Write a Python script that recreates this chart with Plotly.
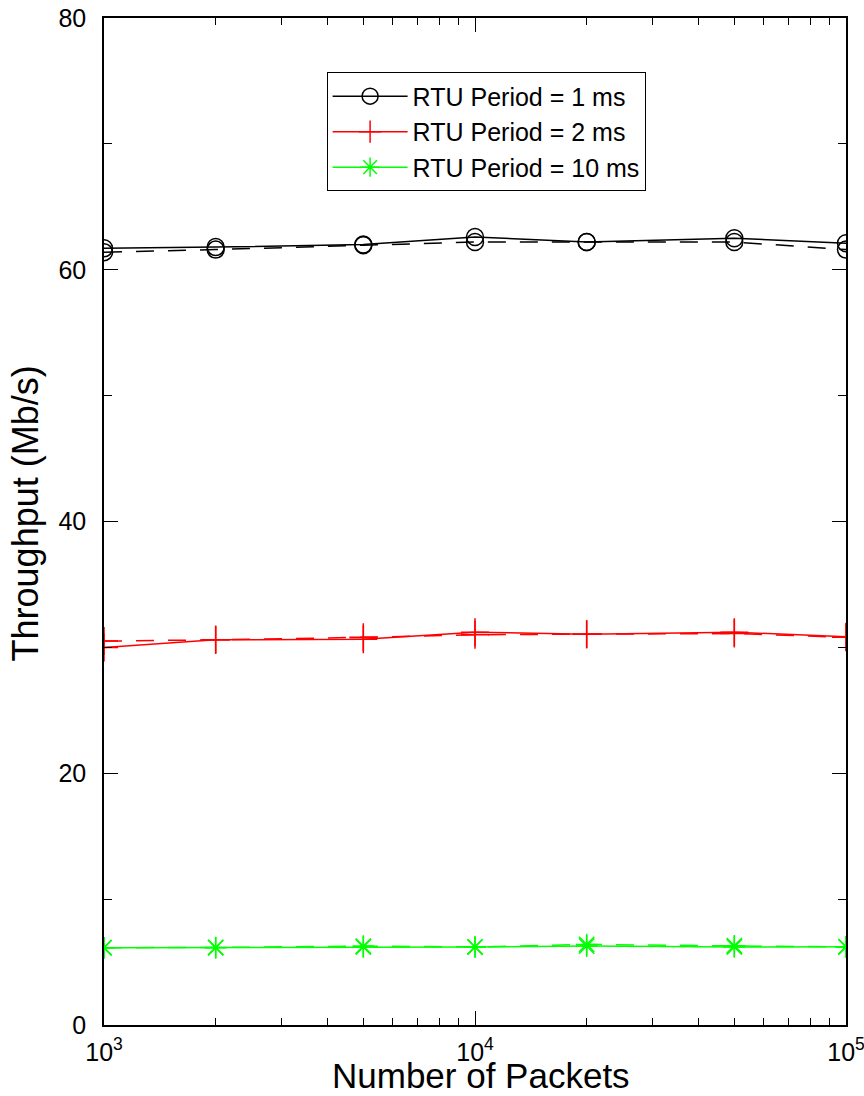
import plotly.graph_objects as go

packets = [1000, 2000, 5000, 10000, 20000, 50000, 100000]

rtu1_meas = [61.7, 61.8, 62.0, 62.6, 62.2, 62.5, 62.1]
rtu1_model = [61.4, 61.6, 61.95, 62.2, 62.2, 62.2, 61.6]
rtu2_meas = [30.0, 30.6, 30.65, 31.2, 31.05, 31.2, 30.85]
rtu2_model = [30.5, 30.6, 30.8, 31.0, 31.05, 31.1, 30.8]
rtu10_meas = [6.14, 6.14, 6.2, 6.2, 6.27, 6.2, 6.22]
rtu10_model = [6.14, 6.16, 6.27, 6.2, 6.4, 6.3, 6.2]

labels = ["RTU Period = 1 ms", "RTU Period = 2 ms", "RTU Period = 10 ms"]
colors = ["#000000", "#ff0000", "#00ff00"]
symbols = ["circle-open", "cross-thin-open", "asterisk-open"]
sizes = [17, 20, 18]

x_tickvals = [1000, 10000, 100000]
x_ticktext = ["10<sup>3</sup>", "10<sup>4</sup>", "10<sup>5</sup>"]
x_minor = [2000, 3000, 4000, 5000, 6000, 7000, 8000, 9000,
           20000, 30000, 40000, 50000, 60000, 70000, 80000, 90000]
y_tickvals = [0, 20, 40, 60, 80]

fig = go.Figure()
meas = [rtu1_meas, rtu2_meas, rtu10_meas]
model = [rtu1_model, rtu2_model, rtu10_model]
for i in range(3):
    fig.add_trace(go.Scatter(
        x=packets, y=model[i], mode="lines+markers", showlegend=False,
        line=dict(color=colors[i], width=1.5, dash="18px,14px"),
        marker=dict(symbol=symbols[i], size=sizes[i], color=colors[i],
                    line=dict(color=colors[i], width=1.5))))
for i in range(3):
    fig.add_trace(go.Scatter(
        x=packets, y=meas[i], mode="lines+markers", name=labels[i],
        line=dict(color=colors[i], width=1.5),
        marker=dict(symbol=symbols[i], size=sizes[i], color=colors[i],
                    line=dict(color=colors[i], width=1.5))))

fig.update_layout(
    width=864, height=1096,
    margin=dict(l=104, r=18, t=18, b=71),
    paper_bgcolor="white", plot_bgcolor="white",
    font=dict(family="Liberation Sans, Arial, sans-serif", size=25, color="black"),
    legend=dict(x=0.30, y=0.946, xanchor="left", yanchor="top",
                bordercolor="black", borderwidth=1, bgcolor="white",
                font=dict(size=25), tracegroupgap=0, itemwidth=75),
    annotations=[
        dict(text="Number of Packets", xref="paper", yref="paper",
             x=0.508, y=-0.0497, xanchor="center", yanchor="middle",
             showarrow=False, font=dict(size=35)),
        dict(text="Throughput (Mb/s)", xref="paper", yref="paper",
             x=-0.1065, y=0.508, xanchor="center", yanchor="middle",
             textangle=-90, showarrow=False, font=dict(size=36)),
    ],
)
fig.update_xaxes(
    type="log", range=[3, 5], automargin=False,
    tickvals=x_tickvals, ticktext=x_ticktext, ticklabeloverflow="allow",
    ticks="inside", ticklen=14, tickwidth=1, tickcolor="black",
    minor=dict(tickvals=x_minor, ticks="inside", ticklen=7, tickcolor="black"),
    showline=True, linecolor="black", linewidth=1.5, mirror="ticks",
    showgrid=False, zeroline=False,
    tickfont=dict(size=25), ticklabelstandoff=4,
)
fig.update_yaxes(
    range=[0, 80], tickvals=y_tickvals, automargin=False,
    ticks="inside", ticklen=14, tickwidth=1, tickcolor="black",
    minor=dict(dtick=10, ticks="inside", ticklen=8, tickcolor="black"),
    showline=True, linecolor="black", linewidth=1.5, mirror="ticks",
    showgrid=False, zeroline=False, ticklabeloverflow="allow",
    tickfont=dict(size=25), ticklabelstandoff=11,
)

fig.write_html("out.html")
